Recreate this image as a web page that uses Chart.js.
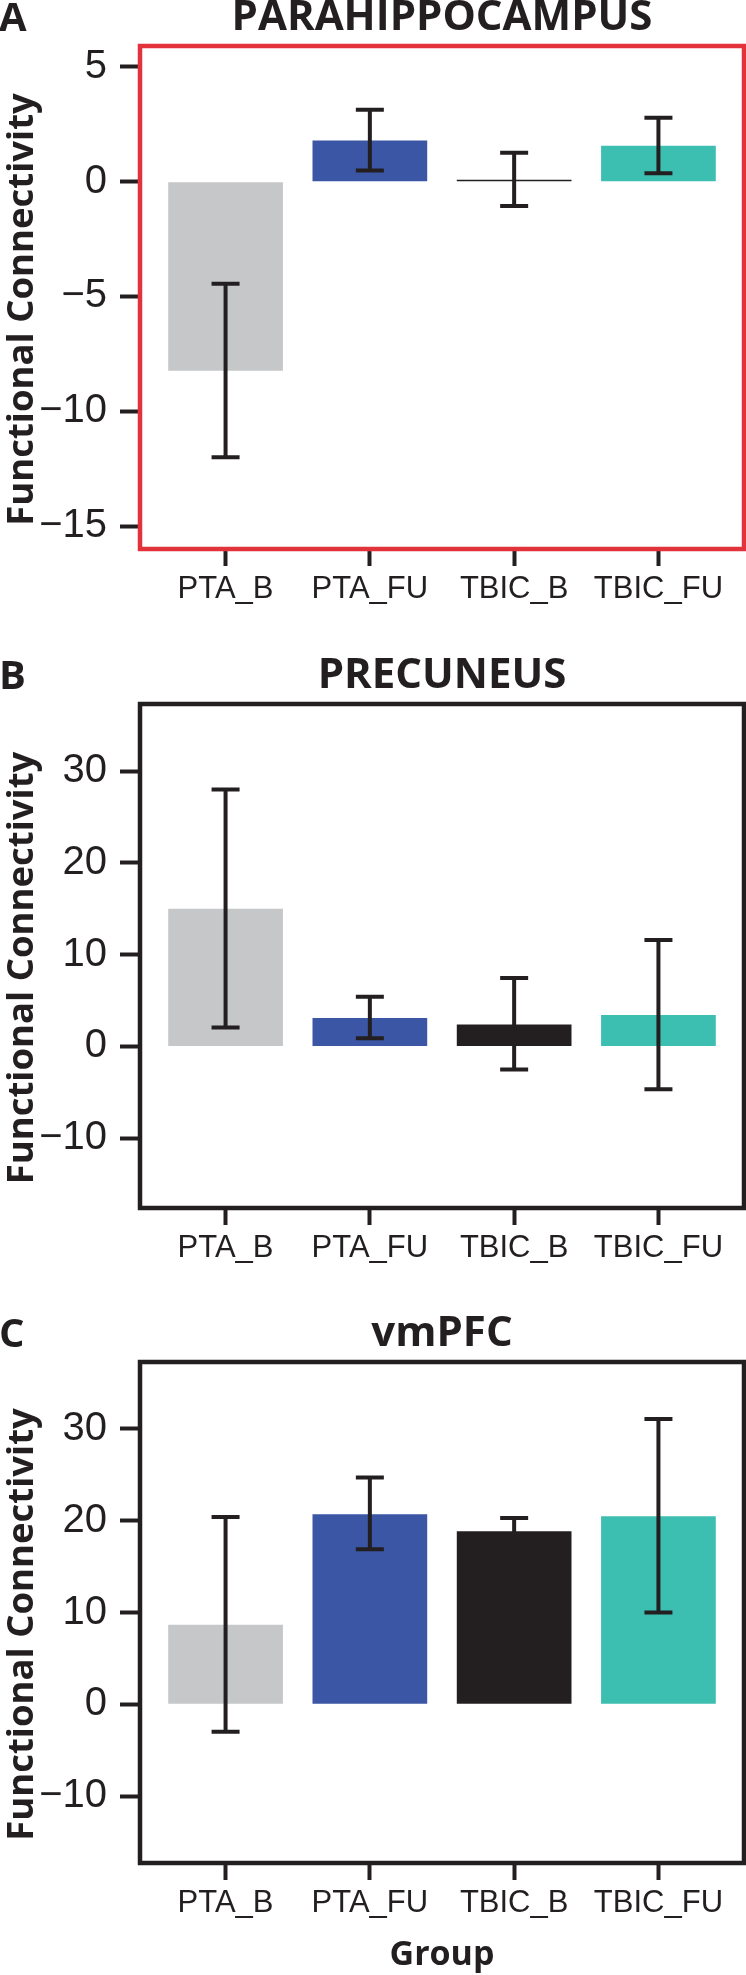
<!DOCTYPE html>
<html>
<head>
<meta charset="utf-8">
<script src="https://cdn.jsdelivr.net/npm/chart.js@4.4.1/dist/chart.umd.min.js"></script>
<style>
  html, body { margin: 0; padding: 0; background: #fff; }
  .panel { position: absolute; left: 0; }
</style>
</head>
<body>
<div class="panel" style="top:0"><canvas id="chartA" width="746" height="650"></canvas></div>
<div class="panel" style="top:650px"><canvas id="chartB" width="746" height="660"></canvas></div>
<div class="panel" style="top:1310px"><canvas id="chartC" width="746" height="665"></canvas></div>
<script>
// groups + colours (same for all three panels)
const groups = ['PTA_B', 'PTA_FU', 'TBIC_B', 'TBIC_FU'];
const barColors = ['#c6c7c9', '#3a56a5', '#231f20', '#3cbfb1'];

// A - parahippocampus
const paraMeans = [-8.24, 1.79, 0.08, 1.56];
const paraHigh = [-4.45, 3.13, 1.26, 2.78];
const paraLow = [-12.0, 0.49, -1.06, 0.37];
const paraTicks = [5, 0, -5, -10, -15];

// B - precuneus
const precMeans = [15.0, 3.1, 2.4, 3.43];
const precHigh = [28.0, 5.4, 7.46, 11.6];
const precLow = [2.06, 0.9, -2.5, -4.67];
const precTicks = [30, 20, 10, 0, -10];

// C - vmPFC
const vmMeans = [8.66, 20.7, 18.85, 20.5];
const vmHigh = [20.4, 24.7, 20.3, 31.1];
const vmLow = [-3.0, 16.9, 17.4, 10.0];
const vmTicks = [30, 20, 10, 0, -10];

const ink = '#231f20';
const plainFont = "'Liberation Sans', Arial, sans-serif";
const boldFont = "'Open Sans', 'DejaVu Sans', sans-serif";

// error bars, frame and the texts around the plot
const panelPlugin = {
    id: 'panel',
    afterDatasetsDraw(chart, args, opts) {
        const ctx = chart.ctx;
        const a = chart.chartArea;
        const x = chart.scales.x;
        const y = chart.scales.y;
        ctx.save();

        ctx.strokeStyle = ink;
        ctx.lineWidth = 4;
        opts.low.forEach((lo, i) => {
            const px = x.getPixelForValue(i);
            const yl = y.getPixelForValue(lo);
            const yh = y.getPixelForValue(opts.high[i]);
            ctx.beginPath();
            ctx.moveTo(px, yl); ctx.lineTo(px, yh);
            ctx.moveTo(px - 14, yl); ctx.lineTo(px + 14, yl);
            ctx.moveTo(px - 14, yh); ctx.lineTo(px + 14, yh);
            ctx.stroke();
        });

        ctx.strokeStyle = opts.frame;
        ctx.lineWidth = 4.5;
        ctx.strokeRect(a.left, a.top, a.right - a.left, a.bottom - a.top);

        ctx.fillStyle = ink;
        ctx.textBaseline = 'alphabetic';
        ctx.font = 'bold 42px ' + boldFont;
        ctx.textAlign = 'center';
        ctx.fillText(opts.title, (a.left + a.right) / 2, a.top - 16);
        ctx.font = 'bold 40px ' + boldFont;
        ctx.textAlign = 'left';
        ctx.fillText(opts.letter, -1, a.top - 15);

        ctx.font = 'bold 36.5px ' + boldFont;
        ctx.textAlign = 'center';
        ctx.save();
        ctx.translate(33, (a.top + a.bottom) / 2 + 12);
        ctx.rotate(-Math.PI / 2);
        ctx.fillText('Functional Connectivity', 0, 0);
        ctx.restore();

        if (opts.xTitle) {
            ctx.font = 'bold 34px ' + boldFont;
            ctx.fillText(opts.xTitle, (a.left + a.right) / 2, opts.xTitleY);
        }
        ctx.restore();
    }
};

function minusLabel(v) {
    return v < 0 ? '\u2212' + Math.abs(v) : String(v);
}

function makePanel(id, p) {
    const canvas = document.getElementById(id);
    return new Chart(canvas, {
        type: 'bar',
        data: {
            datasets: [{
                data: p.means.map((v, i) => ({ x: i, y: v })),
                backgroundColor: barColors,
                borderWidth: 0,
                categoryPercentage: 1,
                barPercentage: 0.795
            }]
        },
        options: {
            responsive: false,
            animation: false,
            devicePixelRatio: 1,
            layout: { padding: { top: p.top, right: 2, bottom: 0, left: 0 } },
            scales: {
                x: {
                    type: 'linear',
                    offset: false,
                    min: -0.593,
                    max: 3.593,
                    afterBuildTicks: s => { s.ticks = groups.map((g, i) => ({ value: i })); },
                    afterFit: s => { s.height = p.xHeight; },
                    ticks: {
                        callback: v => groups[v],
                        font: { family: plainFont, size: 31 },
                        color: ink,
                        padding: 5,
                        maxRotation: 0,
                        autoSkip: false
                    },
                    grid: { offset: false, drawOnChartArea: false, tickLength: 17, tickWidth: 4, tickColor: ink },
                    border: { display: false }
                },
                y: {
                    min: p.min,
                    max: p.max,
                    afterBuildTicks: s => { s.ticks = p.ticks.map(v => ({ value: v })); },
                    afterFit: s => { s.width = 140; },
                    ticks: {
                        callback: minusLabel,
                        font: { family: plainFont, size: 40 },
                        color: ink,
                        padding: 13
                    },
                    grid: { drawOnChartArea: false, tickLength: 20, tickWidth: 4, tickColor: ink },
                    border: { display: false }
                }
            },
            plugins: {
                legend: { display: false },
                tooltip: { enabled: false },
                panel: {
                    low: p.low,
                    high: p.high,
                    frame: p.frame,
                    title: p.title,
                    letter: p.letter,
                    xTitle: p.xTitle,
                    xTitleY: p.xTitleY
                }
            }
        },
        plugins: [panelPlugin]
    });
}

makePanel('chartA', {
    means: paraMeans, high: paraHigh, low: paraLow, ticks: paraTicks,
    min: -16.0, max: 5.91, top: 46, xHeight: 101,
    frame: '#e2333d', title: 'PARAHIPPOCAMPUS', letter: 'A'
});

makePanel('chartB', {
    means: precMeans, high: precHigh, low: precLow, ticks: precTicks,
    min: -17.6, max: 37.3, top: 54, xHeight: 102,
    frame: ink, title: 'PRECUNEUS', letter: 'B'
});

makePanel('chartC', {
    means: vmMeans, high: vmHigh, low: vmLow, ticks: vmTicks,
    min: -17.3, max: 37.3, top: 52, xHeight: 112,
    frame: ink, title: 'vmPFC', letter: 'C', xTitle: 'Group', xTitleY: 655
});
</script>
</body>
</html>
